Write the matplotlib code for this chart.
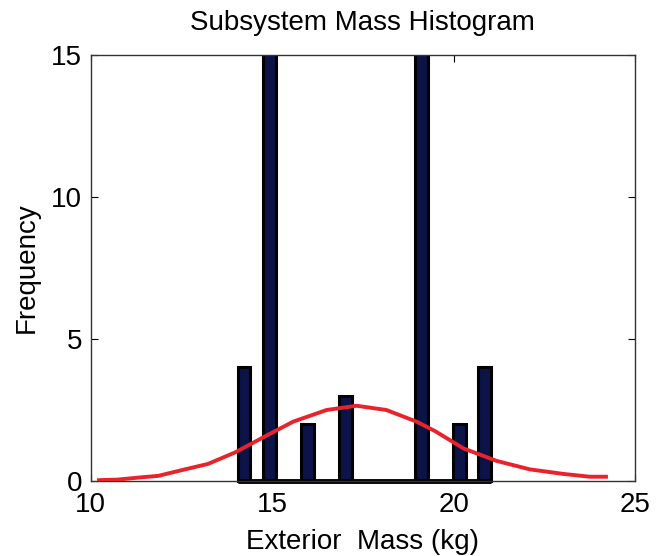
import matplotlib.pyplot as plt
from matplotlib.patches import Rectangle

# Histogram bins (20 bins of equal width) and their counts
bin_start = 14.05
bin_width = 0.349
counts = [4, 0, 20, 0, 0, 2, 0, 0, 3, 0, 0, 0, 0, 0, 20, 0, 0, 2, 0, 4]

# Fitted distribution curve
curve_x = [10.23, 10.75, 11.4, 11.86, 12.6, 13.23, 13.97, 14.7, 15.58, 16.5,
           17.33, 18.15, 18.98, 19.5, 20.27, 21.18, 22.1, 23.02, 23.76, 24.2]
curve_y = [0.03, 0.05, 0.13, 0.18, 0.41, 0.6, 1.0, 1.5, 2.09, 2.5,
           2.65, 2.5, 2.09, 1.75, 1.15, 0.71, 0.41, 0.25, 0.15, 0.15]

plt.rcParams['font.family'] = ['Liberation Sans', 'DejaVu Sans']

fig = plt.figure(figsize=(6.59, 5.56), dpi=100)
ax = fig.add_axes([0.1376, 0.1349, 0.826, 0.766])

centers = [bin_start + bin_width * (i + 0.5) for i in range(len(counts))]
bars = ax.bar(centers, counts, width=bin_width, color='#0b1347',
              edgecolor='black', linewidth=2.2, zorder=2)
clip = Rectangle((0, -0.02), 1, 1.02, transform=ax.transAxes, fill=False)
for b in bars:
    b.set_clip_path(clip)

# empty bins show up as a thick black baseline
bin_end = bin_start + bin_width * len(counts)
ax.hlines(0, bin_start, bin_end, colors='black', linewidth=3.5,
          zorder=2, clip_on=False)

ax.plot(curve_x, curve_y, color='#e8232c', linewidth=2.8, zorder=3)

ax.set_xlim(10, 25)
ax.set_ylim(0, 15)
ax.set_xticks([10, 15, 20, 25])
ax.set_yticks([0, 5, 10, 15])
ax.tick_params(direction='in', length=5, width=0.8, labelsize=20,
               top=True, right=True)
ax.tick_params(axis='x', pad=8)
ax.tick_params(axis='y', pad=6)
for s in ax.spines.values():
    s.set_linewidth(1.0)
    s.set_color('#333333')

ax.set_title('Subsystem Mass Histogram', fontsize=20, pad=18)
ax.set_xlabel('Exterior  Mass (kg)', fontsize=20, labelpad=8)
ax.set_ylabel('Frequency', fontsize=20, labelpad=8)

fig.savefig('out.png', dpi=100)
